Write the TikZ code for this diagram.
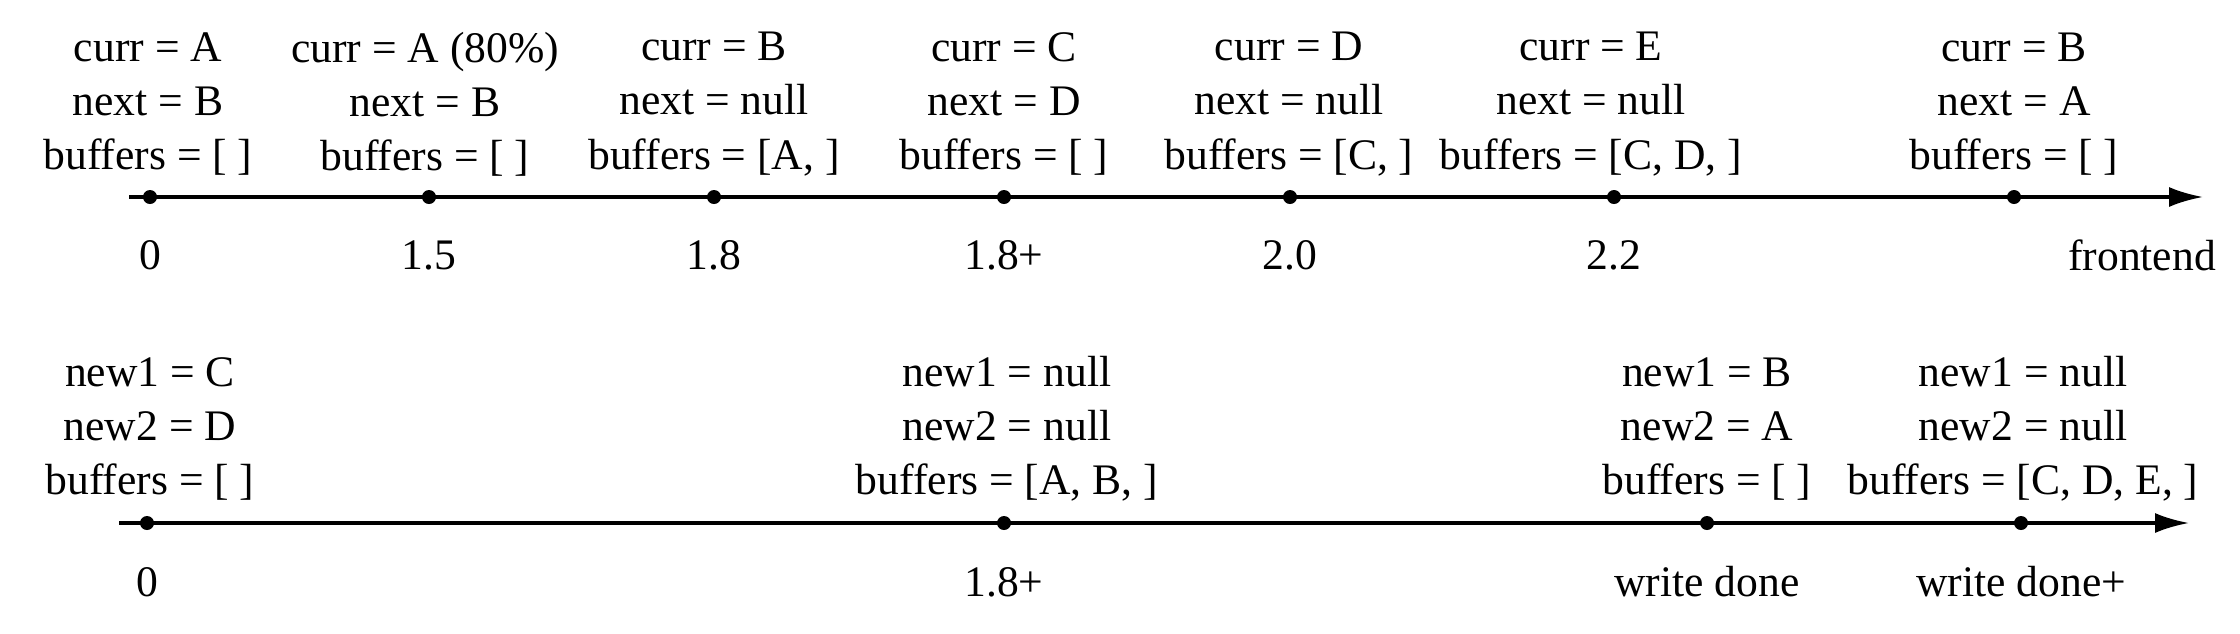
\documentclass[tikz,border=0pt]{standalone}
\usepackage{fontspec}
\setmainfont{Liberation Serif}
\usetikzlibrary{arrows.meta}
\begin{document}
\begin{tikzpicture}[x=0.01cm,y=-0.01cm,
  state/.style={align=center,inner sep=0pt,font=\fontsize{12.4}{15.4}\selectfont},
  ticklabel/.style={inner sep=0pt,font=\fontsize{12.4}{15.4}\selectfont},
  evt/.style={circle,fill=black,inner sep=0pt,minimum size=0.14cm},
  axisline/.style={line width=0.95pt,-{Latex[length=0.34cm,width=0.2cm]}}]
\useasboundingbox (0,0) rectangle (2240,633);
% ---------- top timeline (frontend) ----------
\coordinate (ts) at (129,197);
\coordinate (te) at (2203,197);
\draw[axisline] (ts) -- (te);
\node[evt] (t0) at (150,197) {};
\node[evt] (t1) at (429,197) {};
\node[evt] (t2) at (714,197) {};
\node[evt] (t3) at (1004,197) {};
\node[evt] (t4) at (1290,197) {};
\node[evt] (t5) at (1614,197) {};
\node[evt] (t6) at (2014,197) {};
\node[state] (s0) at (148,104) {curr = A\\next = B\\buffers = [ ]};
\node[state] (s1) at (425,104) {curr = A (80\%)\\next = B\\buffers = [ ]};
\node[state] (s2) at (714,104) {curr = B\\next = null\\buffers = [A, ]};
\node[state] (s3) at (1004,104) {curr = C\\next = D\\buffers = [ ]};
\node[state] (s4) at (1289,104) {curr = D\\next = null\\buffers = [C, ]};
\node[state] (s5) at (1591,104) {curr = E\\next = null\\buffers = [C, D, ]};
\node[state] (s6) at (2014,104) {curr = B\\next = A\\buffers = [ ]};
\node[ticklabel] (l0) at (150,255) {0};
\node[ticklabel] (l1) at (429,255) {1.5};
\node[ticklabel] (l2) at (714,255) {1.8};
\node[ticklabel] (l3) at (1004,255) {1.8+};
\node[ticklabel] (l4) at (1290,255) {2.0};
\node[ticklabel] (l5) at (1614,255) {2.2};
\node[ticklabel] (lf) at (2142,255) {frontend};
% ---------- bottom timeline ----------
\coordinate (bs) at (119,523);
\coordinate (be) at (2189,523);
\draw[axisline] (bs) -- (be);
\node[evt] (b0) at (147,523) {};
\node[evt] (b1) at (1004,523) {};
\node[evt] (b2) at (1707,523) {};
\node[evt] (b3) at (2021,523) {};
\node[state] (n0) at (150,429) {new1 = C\\new2 = D\\buffers = [ ]};
\node[state] (n1) at (1007,429) {new1 = null\\new2 = null\\buffers = [A, B, ]};
\node[state] (n2) at (1707,429) {new1 = B\\new2 = A\\buffers = [ ]};
\node[state] (n3) at (2023,429) {new1 = null\\new2 = null\\buffers = [C, D, E, ]};
\node[ticklabel] (m0) at (147,582) {0};
\node[ticklabel] (m1) at (1004,582) {1.8+};
\node[ticklabel] (m2) at (1707,582) {write done};
\node[ticklabel] (m3) at (2021,582) {write done+};
\end{tikzpicture}
\end{document}
